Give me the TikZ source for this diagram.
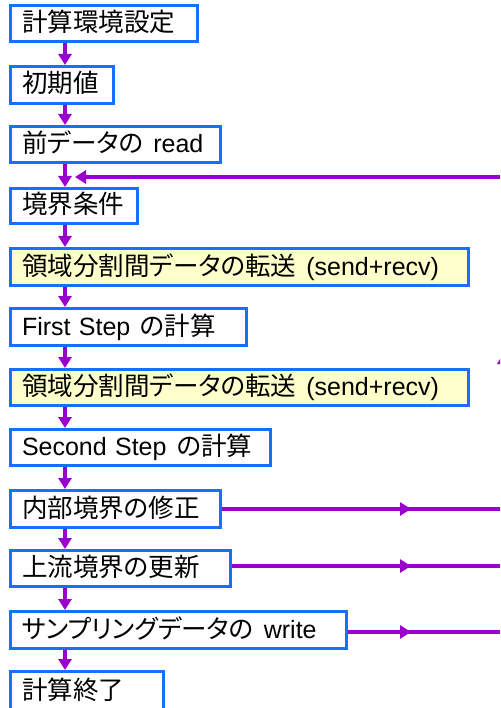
\documentclass[tikz,border=0pt]{standalone}
\usepackage{fontspec}
\setmainfont{Liberation Sans}
\newfontfamily\jp[RawFeature=+palt,Scale=1.02]{Noto Sans CJK JP}
\usetikzlibrary{arrows.meta}
\definecolor{boxblue}{RGB}{20,112,255}
\definecolor{flowpurple}{RGB}{153,0,204}
\definecolor{boxyellow}{RGB}{255,255,204}
\newcommand{\gapjl}{\hspace{10pt}}
\tikzset{
  stepbox/.style={draw=boxblue, line width=3pt, fill=white, inner ysep=0pt, inner xsep=11.5pt,
    font=\fontsize{25}{25}\selectfont, align=left, text height=18pt, text depth=2pt},
  sendbox/.style={stepbox, fill=boxyellow},
  flow/.style={draw=flowpurple, line width=3.5pt, -{Triangle[length=11pt,width=13pt]}},
  flowline/.style={draw=flowpurple, line width=3.5pt},
}
\begin{document}
\begin{tikzpicture}[x=1pt,y=-1pt]
\useasboundingbox (0,0) rectangle (500,708);
\node[stepbox, minimum width=187pt, text width=164pt, minimum height=36pt] (b1) at (104,23.5) {\mbox{\jp 計算環境設定}};
\node[stepbox, minimum width=103pt, text width=80pt, minimum height=37pt] (b2) at (62,85) {\mbox{\jp 初期値}};
\node[stepbox, minimum width=210pt, text width=187pt, minimum height=36pt] (b3) at (115.5,144.5) {\mbox{{\jp 前データの}\gapjl read}};
\node[stepbox, minimum width=127pt, text width=104pt, minimum height=35pt] (b4) at (74,206) {\mbox{\jp 境界条件}};
\node[sendbox, minimum width=458pt, text width=435pt, minimum height=37pt] (b5) at (239.5,267) {\mbox{{\jp 領域分割間データの転送}\gapjl(send+recv)}};
\node[stepbox, minimum width=236pt, text width=213pt, minimum height=37pt] (b6) at (128.5,327) {\mbox{First Step\gapjl{\jp の計算}}};
\node[sendbox, minimum width=458pt, text width=435pt, minimum height=36pt] (b7) at (239.5,387.5) {\mbox{{\jp 領域分割間データの転送}\gapjl(send+recv)}};
\node[stepbox, minimum width=260pt, text width=237pt, minimum height=36pt] (b8) at (140.5,447.5) {\mbox{Second Step\gapjl{\jp の計算}}};
\node[stepbox, minimum width=210pt, text width=187pt, minimum height=37pt] (b9) at (115.5,509) {\mbox{\jp 内部境界の修正}};
\node[stepbox, minimum width=220pt, text width=197pt, minimum height=36pt] (b10) at (120.5,568.5) {\mbox{\jp 上流境界の更新}};
\node[stepbox, minimum width=336pt, text width=313pt, minimum height=37pt] (b11) at (178.5,630) {\mbox{{\jp サンプリングデータの}\gapjl write}};
\node[stepbox, minimum width=153pt, text width=130pt, minimum height=39pt] (b12) at (87,691) {\mbox{\jp 計算終了}};

\coordinate (ax) at (65,0);
\coordinate (mx) at (411,0);
\coordinate (rx) at (500,0);
\foreach \a/\b in {b1/b2,b2/b3,b3/b4,b4/b5,b5/b6,b6/b7,b7/b8,b8/b9,b9/b10,b10/b11,b11/b12}{
  \draw[flow] (\a.south -| ax) -- (\b.north -| ax);
}
% feedback
\coordinate (fbR) at (500,177);
\coordinate (fbL) at (75,177);
\draw[flow] (fbR) -- (fbL);
% outgoing lines
\coordinate (o9) at (0,509);
\coordinate (o10) at (0,566);
\coordinate (o11) at (0,632);
\foreach \n in {9,10,11}{
  \draw[flowline] (b\n.east |- o\n) -- (rx |- o\n);
  \draw[flow] (b\n.east |- o\n) -- (mx |- o\n);
}
% small cut-off mark at right edge
\fill[flowpurple] (497,364) -- (500,359) -- (500,364) -- cycle;
\end{tikzpicture}
\end{document}
